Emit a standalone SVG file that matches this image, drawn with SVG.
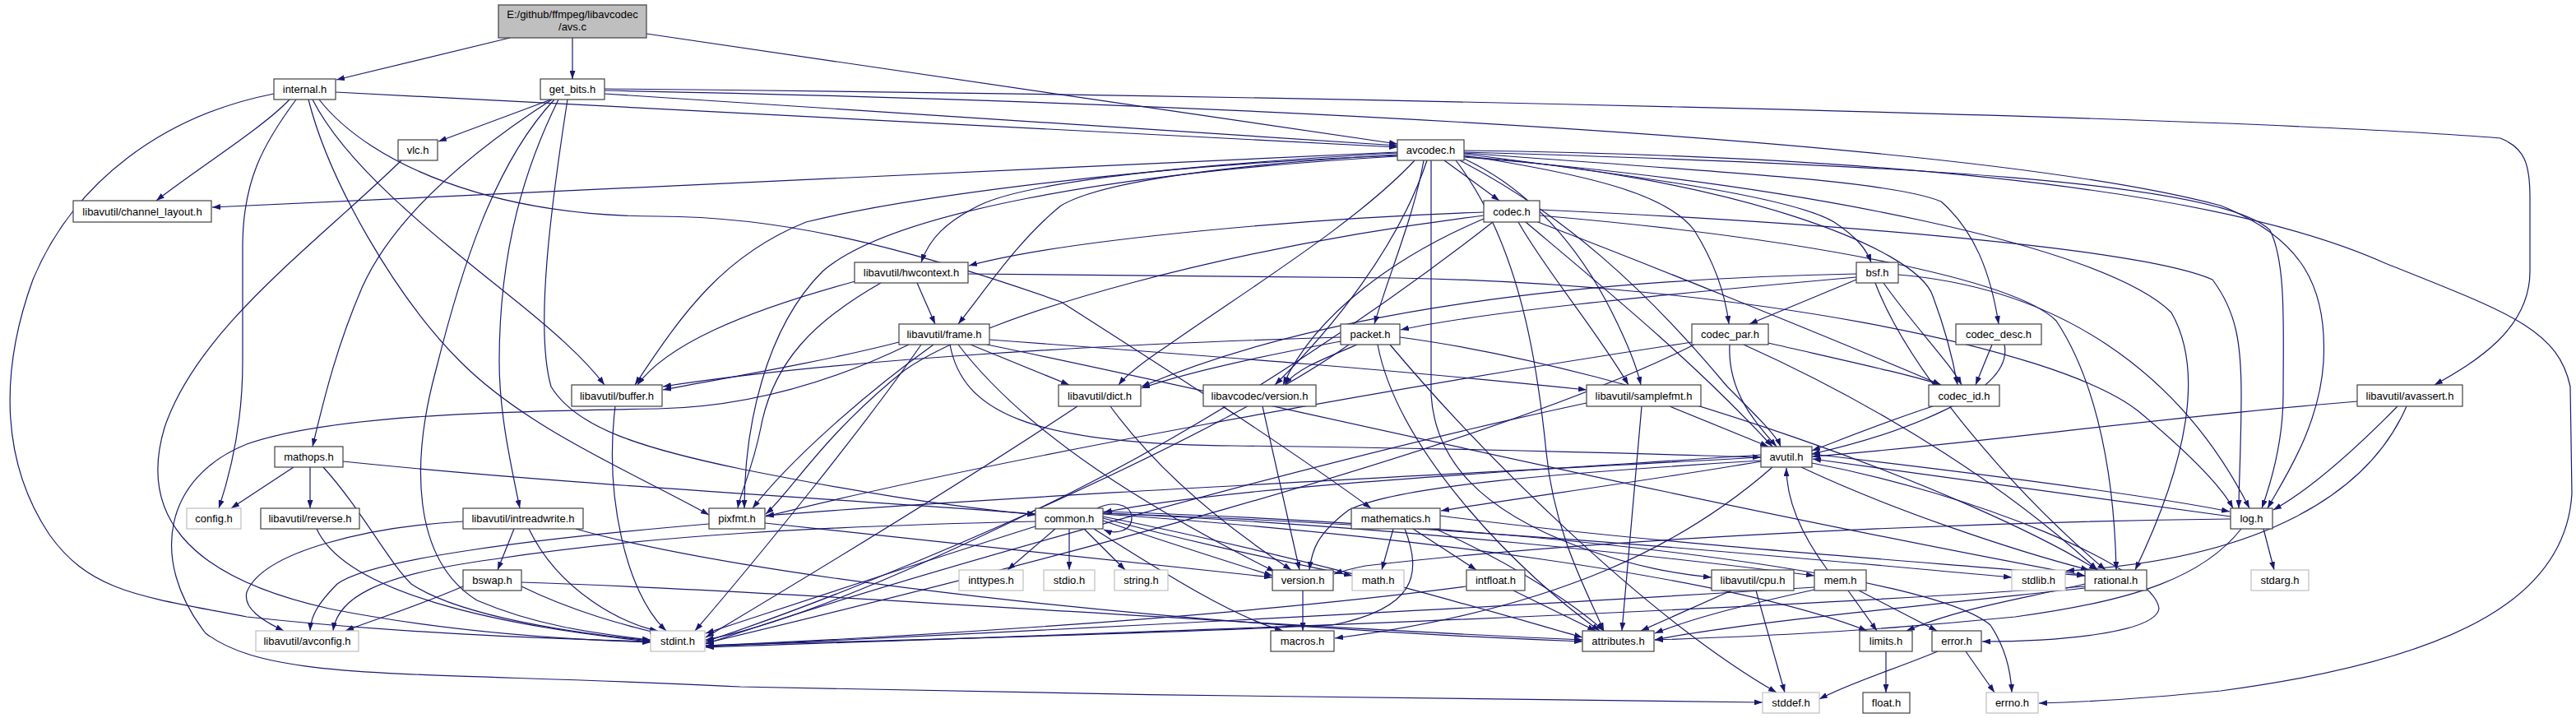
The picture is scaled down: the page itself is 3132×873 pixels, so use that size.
<svg xmlns="http://www.w3.org/2000/svg" width="3132" height="873" viewBox="0 0 3132 873">
<defs>
<marker id="a" markerWidth="10" markerHeight="7" refX="10" refY="3.5" orient="auto" markerUnits="userSpaceOnUse"><path d="M0,0L10,3.5L0,7z" fill="#191970"/></marker>
</defs>
<style>
.n rect{fill:#fff;stroke:#404040;stroke-width:1.2}
.s rect{fill:#fff;stroke:#bfbfbf;stroke-width:1.2}
.r rect{fill:#bfbfbf;stroke:#404040;stroke-width:1.2}
text{font-family:"Liberation Sans",Arial,sans-serif;font-size:13px;text-anchor:middle;fill:#000}
#edges path{fill:none;stroke:#191970;stroke-width:1.2;marker-end:url(#a)}
</style>
<rect width="3132" height="873" fill="#fff"/>
<g id="edges">
<path d="M620,46 L409,97"/>
<path d="M696,46 L696,96"/>
<path d="M786,41 L1699,175"/>
<path d="M408,112 L1699,179"/>
<path d="M352,121 C320,155 240,205 190,244"/>
<path d="M360,121 C320,175 295,220 295,300 L295,440 C295,510 282,570 266,618"/>
<path d="M333,114 C200,140 90,220 40,340 C0,450 0,560 60,650 C110,720 170,725 300,750 C500,772 700,777 791,780"/>
<path d="M380,121 C420,200 520,280 620,360 C670,400 710,435 735,468"/>
<path d="M375,121 C400,220 480,360 560,440 C640,520 760,570 862,626"/>
<path d="M388,121 C450,200 600,263 800,263 C950,263 1100,300 1290,367 C1420,450 1560,540 1667,618"/>
<path d="M670,121 L533,172"/>
<path d="M735,114 L1699,177"/>
<path d="M735,110 C1500,125 2400,170 2700,250 C2800,290 2830,350 2825,440 C2820,520 2775,585 2757,618"/>
<path d="M735,108 C1500,115 2700,140 3040,168 C3070,180 3076,200 3076,240 L3076,330 C3076,400 3010,440 2960,468"/>
<path d="M671,121 C580,180 480,260 440,350 C410,420 395,480 380,543"/>
<path d="M690,121 C670,250 650,400 670,470 C700,520 780,545 900,570 C1050,600 1150,615 1259,626"/>
<path d="M679,121 C640,200 607,300 607,440 C607,500 620,560 632,618"/>
<path d="M674,121 C600,200 560,330 530,450 C500,560 500,680 580,730 C650,760 720,770 791,778"/>
<path d="M488,195 C380,300 240,400 200,520 C170,620 220,700 400,740 C550,770 700,778 791,781"/>
<path d="M1699,185 L258,252"/>
<path d="M1699,186 C1450,200 1250,220 1190,250 C1150,270 1130,290 1120,319"/>
<path d="M1699,188 C1500,200 1340,220 1290,250 C1240,290 1200,350 1165,394"/>
<path d="M1699,189 C1400,200 1100,240 980,270 C880,310 830,380 772,468"/>
<path d="M1699,190 C1350,210 1080,260 1000,330 C930,400 905,520 905,618"/>
<path d="M1731,195 C1720,260 1690,330 1671,394"/>
<path d="M1720,195 C1650,270 1520,350 1420,420 C1390,440 1370,455 1360,468"/>
<path d="M1735,195 C1700,300 1620,400 1550,468"/>
<path d="M1740,195 L1740,480 C1745,560 1800,620 1920,665 C1990,690 2040,698 2081,702"/>
<path d="M1756,195 L1823,244"/>
<path d="M1780,193 C1860,230 1920,300 1960,380 C1980,420 1990,445 1995,468"/>
<path d="M1780,189 C1950,215 2030,240 2060,280 C2085,320 2098,360 2102,394"/>
<path d="M1780,187 C2000,215 2180,240 2230,270 C2260,290 2270,305 2275,319"/>
<path d="M1780,186 C2100,210 2300,220 2360,245 C2400,280 2420,330 2430,394"/>
<path d="M1780,190 C2100,215 2330,300 2350,360 C2365,400 2375,440 2380,468"/>
<path d="M1780,185 C2300,200 2700,220 2760,280 C2780,320 2776,400 2776,480 C2776,540 2760,590 2750,618"/>
<path d="M1780,183 C2300,190 2700,230 2900,320 C3050,380 3110,400 3125,470 L3127,600 C3120,720 3000,800 2700,840 C2600,850 2520,854 2479,855"/>
<path d="M1780,191 C2200,225 2560,300 2640,380 C2680,450 2660,560 2596,693"/>
<path d="M1770,195 C1850,300 1870,450 1880,550 C1890,650 1930,720 1950,767"/>
<path d="M1775,195 C1900,260 2000,350 2100,470 C2140,510 2160,530 2165,543"/>
<path d="M1804,258 C1600,265 1300,290 1178,323"/>
<path d="M1804,262 C1500,300 1200,380 1100,450 C1000,530 960,600 931,625"/>
<path d="M1815,270 C1700,360 1500,500 1300,600 C1100,700 950,760 858,778"/>
<path d="M1804,266 C1700,310 1600,380 1560,468"/>
<path d="M1855,270 C1950,350 2060,440 2155,543"/>
<path d="M1846,270 C1880,330 1940,400 1980,468"/>
<path d="M1870,270 C2000,320 2200,400 2360,468"/>
<path d="M1872,255 C2200,270 2600,300 2690,340 C2720,380 2725,420 2725,480 C2725,540 2722,590 2722,618"/>
<path d="M1872,262 C2200,290 2450,340 2500,390 C2540,450 2570,550 2573,693"/>
<path d="M1115,344 L1137,394"/>
<path d="M1040,342 C900,380 810,420 775,468"/>
<path d="M1071,344 C990,390 940,440 925,520 C915,570 900,600 897,618"/>
<path d="M1177,333 L1700,338 C2100,345 2500,420 2600,500 C2660,550 2700,590 2715,618"/>
<path d="M1093,416 C1000,440 880,460 806,474"/>
<path d="M1105,419 C1000,470 900,495 800,497 C600,500 400,505 300,540 C200,580 180,680 250,770 C330,830 500,815 900,835 C1300,845 1800,850 2143,854"/>
<path d="M1120,419 C1050,520 920,680 845,767"/>
<path d="M1135,419 C1050,480 960,560 915,618"/>
<path d="M1155,419 C1170,500 1250,540 1500,542 C1800,545 2000,552 2141,556"/>
<path d="M1180,419 L1300,468"/>
<path d="M1203,413 C1500,435 1700,450 1929,474"/>
<path d="M1200,419 C1500,480 2000,600 2535,700"/>
<path d="M1165,419 C1250,530 1400,620 1550,695"/>
<path d="M1630,410 C1300,420 1000,440 806,470"/>
<path d="M1630,415 C1550,430 1450,450 1388,472"/>
<path d="M1650,419 C1600,440 1575,450 1562,468"/>
<path d="M1640,419 C1500,520 1100,700 858,780"/>
<path d="M1675,419 C1700,550 1850,700 1945,767"/>
<path d="M1690,419 C1800,550 2000,750 2160,842"/>
<path d="M1702,410 C2000,450 2400,600 2550,693"/>
<path d="M2057,416 C1700,470 1200,560 931,628"/>
<path d="M2103,419 C2100,480 2140,520 2160,543"/>
<path d="M2150,417 C2250,440 2320,455 2360,468"/>
<path d="M2060,419 C1800,550 1200,700 858,782"/>
<path d="M2120,419 C2300,500 2450,600 2550,693"/>
<path d="M2257,340 L2127,394"/>
<path d="M2257,337 C2000,360 1800,380 1703,401"/>
<path d="M2257,333 C1900,340 1600,380 1388,470"/>
<path d="M2308,334 C2500,350 2650,450 2735,618"/>
<path d="M2280,344 C2320,450 2450,600 2560,693"/>
<path d="M2290,344 C2330,400 2370,440 2385,468"/>
<path d="M2422,419 L2402,468"/>
<path d="M2437,419 C2450,480 2300,530 2203,552"/>
<path d="M748,494 C735,600 760,720 810,767"/>
<path d="M1310,494 C1150,600 950,720 858,775"/>
<path d="M1350,494 C1420,590 1520,660 1570,693"/>
<path d="M1535,494 L1580,693"/>
<path d="M1929,490 C1600,560 1100,700 858,783"/>
<path d="M2030,494 L2150,543"/>
<path d="M1996,494 L1972,767"/>
<path d="M2350,494 C2300,510 2250,530 2203,548"/>
<path d="M2866,488 C2600,510 2400,540 2203,555"/>
<path d="M2915,494 C2850,560 2800,600 2764,620"/>
<path d="M2926,494 C2880,600 2750,680 2512,694"/>
<path d="M357,568 L281,618"/>
<path d="M377,568 L377,618"/>
<path d="M393,568 C440,620 470,680 500,710 C560,750 700,770 791,779"/>
<path d="M417,561 C700,590 1000,605 1259,625"/>
<path d="M385,643 C420,720 600,760 791,780"/>
<path d="M625,643 L605,693"/>
<path d="M563,634 C450,640 320,670 300,720 C295,740 320,755 345,767"/>
<path d="M643,643 C680,720 760,760 800,767"/>
<path d="M700,643 C900,700 1400,760 1924,780"/>
<path d="M563,713 C500,740 450,755 420,767"/>
<path d="M634,713 C700,745 760,760 800,770"/>
<path d="M634,708 C1000,720 1500,760 1924,778"/>
<path d="M862,637 C650,655 450,680 410,710 C385,735 378,750 377,767"/>
<path d="M930,636 L1547,702"/>
<path d="M1283,643 L1225,693"/>
<path d="M1300,643 L1300,693"/>
<path d="M1318,643 L1368,693"/>
<path d="M1334,618 C1355,608 1376,614 1376,630 C1376,646 1356,650 1342,644"/>
<path d="M1341,633 C1420,660 1500,685 1547,700"/>
<path d="M1330,643 C1420,700 1500,750 1560,767"/>
<path d="M1341,630 C1450,660 1550,680 1644,700"/>
<path d="M1341,628 C1600,680 1800,740 1924,775"/>
<path d="M1341,625 C1700,650 2100,700 2270,767"/>
<path d="M1341,624 C1800,640 2200,680 2446,702"/>
<path d="M1341,622 C1900,640 2350,700 2420,760 C2440,790 2445,820 2446,842"/>
<path d="M1259,640 C1100,690 950,740 858,770"/>
<path d="M1259,634 C1000,640 800,650 600,680 C450,700 410,730 405,767"/>
<path d="M1341,624 C1700,640 2050,680 2206,700"/>
<path d="M2141,553 C1900,570 1500,590 1342,623"/>
<path d="M2141,556 C1700,580 1200,605 931,627"/>
<path d="M2141,561 C2000,585 1850,605 1752,621"/>
<path d="M2141,560 C1900,575 1700,590 1640,620 C1600,650 1595,670 1592,693"/>
<path d="M2155,568 C2050,660 1900,740 1623,776"/>
<path d="M2203,552 C2400,575 2600,600 2711,622"/>
<path d="M2712,628 C2500,600 2300,570 2204,558"/>
<path d="M2190,568 C2300,620 2450,670 2540,693"/>
<path d="M2203,563 C2400,600 2620,690 2625,740 C2620,770 2500,780 2410,780"/>
<path d="M2752,643 L2765,693"/>
<path d="M2725,643 C2680,700 2600,730 2450,750 C2250,770 2100,775 2012,778"/>
<path d="M2712,631 C2300,636 1900,660 1660,688 C1640,692 1630,695 1622,698"/>
<path d="M1694,643 L1680,693"/>
<path d="M1718,643 L1795,693"/>
<path d="M1708,643 C1730,700 1720,740 1620,760 C1300,775 1000,780 858,785"/>
<path d="M1751,627 C2000,660 2300,680 2535,700"/>
<path d="M1745,643 C1850,690 1920,740 1950,767"/>
<path d="M1840,718 L1940,767"/>
<path d="M1783,713 C1500,750 1100,775 858,785"/>
<path d="M2105,718 L1995,767"/>
<path d="M2135,718 L2170,842"/>
<path d="M2222,693 C2190,650 2172,610 2172,569"/>
<path d="M2247,718 L2282,767"/>
<path d="M2260,718 L2355,767"/>
<path d="M2206,717 C2100,740 2050,755 2012,770"/>
<path d="M2206,714 C1800,740 1200,770 858,786"/>
<path d="M2535,710 C2450,730 2380,740 2318,767"/>
<path d="M2535,715 C2300,740 2100,760 2012,778"/>
<path d="M2535,713 C2000,750 1200,775 858,787"/>
<path d="M1584,718 L1584,767"/>
<path d="M2293,792 L2293,842"/>
<path d="M2390,792 L2425,842"/>
<path d="M2356,792 C2300,815 2250,830 2212,850"/>
</g>
<g id="n_root" class="r"><rect x="606" y="6" width="180" height="40"/><text x="696" y="21.5">E:/github/ffmpeg/libavcodec</text><text x="696" y="36.5">/avs.c</text></g>
<g id="n_internal" class="n"><rect x="333" y="96" width="75" height="25"/><text x="370.5" y="113">internal.h</text></g>
<g id="n_get_bits" class="n"><rect x="657" y="96" width="78" height="25"/><text x="696" y="113">get_bits.h</text></g>
<g id="n_vlc" class="n"><rect x="484" y="170" width="48" height="25"/><text x="508" y="187">vlc.h</text></g>
<g id="n_avcodec" class="n"><rect x="1699" y="170" width="81" height="25"/><text x="1739.5" y="187">avcodec.h</text></g>
<g id="n_channel_layout" class="n"><rect x="89" y="244" width="168" height="26"/><text x="173" y="261.5">libavutil/channel_layout.h</text></g>
<g id="n_codec" class="n"><rect x="1804" y="244" width="68" height="26"/><text x="1838" y="261.5">codec.h</text></g>
<g id="n_hwcontext" class="n"><rect x="1039" y="319" width="138" height="25"/><text x="1108" y="336">libavutil/hwcontext.h</text></g>
<g id="n_bsf" class="n"><rect x="2257" y="319" width="51" height="25"/><text x="2282.5" y="336">bsf.h</text></g>
<g id="n_frame" class="n"><rect x="1093" y="394" width="110" height="25"/><text x="1148" y="411">libavutil/frame.h</text></g>
<g id="n_packet" class="n"><rect x="1630" y="394" width="72" height="25"/><text x="1666" y="411">packet.h</text></g>
<g id="n_codec_par" class="n"><rect x="2057" y="394" width="93" height="25"/><text x="2103.5" y="411">codec_par.h</text></g>
<g id="n_codec_desc" class="n"><rect x="2378" y="394" width="104" height="25"/><text x="2430" y="411">codec_desc.h</text></g>
<g id="n_buffer" class="n"><rect x="695" y="468" width="110" height="26"/><text x="750" y="485.5">libavutil/buffer.h</text></g>
<g id="n_dict" class="n"><rect x="1287" y="468" width="100" height="26"/><text x="1337" y="485.5">libavutil/dict.h</text></g>
<g id="n_lavc_version" class="n"><rect x="1463" y="468" width="137" height="26"/><text x="1531.5" y="485.5">libavcodec/version.h</text></g>
<g id="n_samplefmt" class="n"><rect x="1929" y="468" width="139" height="26"/><text x="1998.5" y="485.5">libavutil/samplefmt.h</text></g>
<g id="n_codec_id" class="n"><rect x="2345" y="468" width="86" height="26"/><text x="2388" y="485.5">codec_id.h</text></g>
<g id="n_avassert" class="n"><rect x="2866" y="468" width="128" height="26"/><text x="2930" y="485.5">libavutil/avassert.h</text></g>
<g id="n_mathops" class="n"><rect x="334" y="543" width="83" height="25"/><text x="375.5" y="560">mathops.h</text></g>
<g id="n_avutil" class="n"><rect x="2141" y="543" width="62" height="25"/><text x="2172" y="560">avutil.h</text></g>
<g id="n_config" class="s"><rect x="227" y="618" width="66" height="25"/><text x="260" y="635">config.h</text></g>
<g id="n_reverse" class="n"><rect x="317" y="618" width="120" height="25"/><text x="377" y="635">libavutil/reverse.h</text></g>
<g id="n_intreadwrite" class="n"><rect x="563" y="618" width="146" height="25"/><text x="636" y="635">libavutil/intreadwrite.h</text></g>
<g id="n_pixfmt" class="n"><rect x="862" y="618" width="68" height="25"/><text x="896" y="635">pixfmt.h</text></g>
<g id="n_common" class="n"><rect x="1259" y="618" width="82" height="25"/><text x="1300" y="635">common.h</text></g>
<g id="n_mathematics" class="n"><rect x="1643" y="618" width="108" height="25"/><text x="1697" y="635">mathematics.h</text></g>
<g id="n_log" class="n"><rect x="2712" y="618" width="51" height="25"/><text x="2737.5" y="635">log.h</text></g>
<g id="n_bswap" class="n"><rect x="563" y="693" width="71" height="25"/><text x="598.5" y="710">bswap.h</text></g>
<g id="n_inttypes" class="s"><rect x="1166" y="693" width="78" height="25"/><text x="1205" y="710">inttypes.h</text></g>
<g id="n_stdio" class="s"><rect x="1269" y="693" width="62" height="25"/><text x="1300" y="710">stdio.h</text></g>
<g id="n_string" class="s"><rect x="1355" y="693" width="65" height="25"/><text x="1387.5" y="710">string.h</text></g>
<g id="n_version" class="n"><rect x="1547" y="693" width="74" height="25"/><text x="1584" y="710">version.h</text></g>
<g id="n_math" class="s"><rect x="1644" y="693" width="63" height="25"/><text x="1675.5" y="710">math.h</text></g>
<g id="n_intfloat" class="n"><rect x="1783" y="693" width="71" height="25"/><text x="1818.5" y="710">intfloat.h</text></g>
<g id="n_cpu" class="n"><rect x="2081" y="693" width="100" height="25"/><text x="2131" y="710">libavutil/cpu.h</text></g>
<g id="n_mem" class="n"><rect x="2206" y="693" width="63" height="25"/><text x="2237.5" y="710">mem.h</text></g>
<g id="n_stdlib" class="s"><rect x="2446" y="693" width="65" height="25"/><text x="2478.5" y="710">stdlib.h</text></g>
<g id="n_rational" class="n"><rect x="2535" y="693" width="75" height="25"/><text x="2572.5" y="710">rational.h</text></g>
<g id="n_stdarg" class="s"><rect x="2737" y="693" width="70" height="25"/><text x="2772" y="710">stdarg.h</text></g>
<g id="n_avconfig" class="s"><rect x="311" y="767" width="125" height="25"/><text x="373.5" y="784">libavutil/avconfig.h</text></g>
<g id="n_stdint" class="s"><rect x="791" y="767" width="66" height="25"/><text x="824" y="784">stdint.h</text></g>
<g id="n_macros" class="n"><rect x="1545" y="767" width="77" height="25"/><text x="1583.5" y="784">macros.h</text></g>
<g id="n_attributes" class="n"><rect x="1924" y="767" width="87" height="25"/><text x="1967.5" y="784">attributes.h</text></g>
<g id="n_limits" class="n"><rect x="2261" y="767" width="64" height="25"/><text x="2293" y="784">limits.h</text></g>
<g id="n_error" class="n"><rect x="2349" y="767" width="60" height="25"/><text x="2379" y="784">error.h</text></g>
<g id="n_stddef" class="s"><rect x="2143" y="842" width="69" height="25"/><text x="2177.5" y="859">stddef.h</text></g>
<g id="n_float" class="n"><rect x="2265" y="842" width="57" height="25"/><text x="2293.5" y="859">float.h</text></g>
<g id="n_errno" class="s"><rect x="2415" y="842" width="63" height="25"/><text x="2446.5" y="859">errno.h</text></g>
</svg>
